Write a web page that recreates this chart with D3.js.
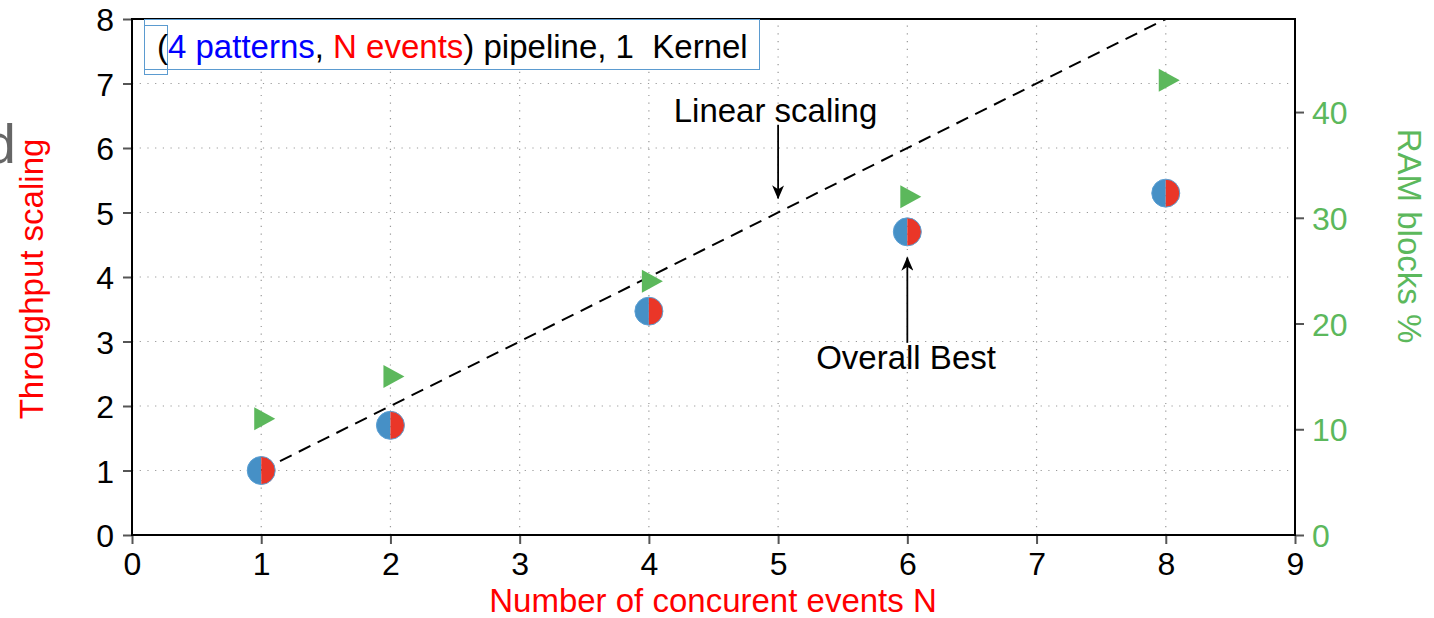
<!DOCTYPE html>
<html>
<head>
<meta charset="utf-8">
<script src="https://cdn.jsdelivr.net/npm/d3@7"></script>
<style>
  body { margin: 0; background: #fff; }
  svg { font-family: "Liberation Sans", Arial, Helvetica, sans-serif; }
</style>
</head>
<body>
<div id="chart"></div>
<script>
const EVENTS = [1, 2, 4, 6, 8]
const THROUGHPUT = [1.0, 1.7, 3.47, 4.7, 5.3]
const RAM_BLOCKS = [11, 15, 24, 32, 43]
const LINEAR = [[1, 1], [8, 8]]
const X_TICKS = [0, 1, 2, 3, 4, 5, 6, 7, 8, 9]
const Y_TICKS = [0, 1, 2, 3, 4, 5, 6, 7, 8]
const Y2_TICKS = [0, 10, 20, 30, 40]

const BLUE = '#4690c6'
const RED = '#ea3628'
const GREEN = '#5cb85c'

const width = 1434, height = 618
const margin = {top: 19, right: 139, bottom: 83, left: 132}

const svg = d3.select('#chart').append('svg')
  .attr('width', width)
  .attr('height', height)

const x = d3.scaleLinear().domain([0, 9]).range([margin.left, width - margin.right])
const y = d3.scaleLinear().domain([0, 8]).range([height - margin.bottom, margin.top])
const y2 = d3.scaleLinear().domain([0, 48.8]).range([height - margin.bottom, margin.top])

// stray glyph from neighbouring content on the page
svg.append('text')
  .attr('x', 16).attr('y', 163)
  .attr('text-anchor', 'end')
  .style('font-size', '56px')
  .attr('fill', '#666')
  .text('d')

// dotted grid
const grid = svg.append('g')
  .attr('stroke', '#999')
  .attr('stroke-width', 1.2)
  .attr('stroke-dasharray', '1.2,6.5')
grid.selectAll('.gx').data(X_TICKS.slice(1, -1)).join('line')
  .attr('x1', d => x(d)).attr('x2', d => x(d))
  .attr('y1', y(0)).attr('y2', y(8))
grid.selectAll('.gy').data(Y_TICKS.slice(1, -1)).join('line')
  .attr('y1', d => y(d)).attr('y2', d => y(d))
  .attr('x1', x(0)).attr('x2', x(9))

// axes
const styleAxis = (g, color) => {
  g.select('.domain').remove()
  g.selectAll('.tick line').attr('stroke', '#555').attr('stroke-width', 2)
  g.selectAll('.tick text')
    .style('font-size', '32px')
    .style('font-family', '"Liberation Sans", Arial, sans-serif')
    .attr('fill', color)
}

svg.append('g')
  .attr('transform', `translate(0,${y(0)})`)
  .call(d3.axisBottom(x).tickValues(X_TICKS).tickSize(9).tickPadding(8))
  .call(g => styleAxis(g, '#000'))

svg.append('g')
  .attr('transform', `translate(${x(0)},0)`)
  .call(d3.axisLeft(y).tickValues(Y_TICKS).tickSize(9).tickPadding(9))
  .call(g => styleAxis(g, '#000'))
  .call(g => g.selectAll('.tick text').attr('dy', '0.36em'))

svg.append('g')
  .attr('transform', `translate(${x(9)},0)`)
  .call(d3.axisRight(y2).tickValues(Y2_TICKS).tickSize(9).tickPadding(8))
  .call(g => styleAxis(g, GREEN))
  .call(g => g.selectAll('.tick text').attr('dy', '0.36em'))

// frame
svg.append('rect')
  .attr('x', x(0)).attr('y', y(8))
  .attr('width', x(9) - x(0)).attr('height', y(0) - y(8))
  .attr('fill', 'none').attr('stroke', '#000').attr('stroke-width', 2)

// axis labels
svg.append('text')
  .attr('x', 713).attr('y', 612)
  .attr('text-anchor', 'middle')
  .style('font-size', '33px').attr('fill', '#ff0000')
  .text('Number of concurent events N')

svg.append('text')
  .attr('transform', `translate(43,${(y(0) + y(8)) / 2 + 2}) rotate(-90)`)
  .attr('text-anchor', 'middle')
  .style('font-size', '33px').attr('fill', '#ff0000')
  .text('Throughput scaling')

svg.append('text')
  .attr('transform', `translate(1398,236) rotate(90)`)
  .attr('text-anchor', 'middle')
  .style('font-size', '33px').attr('fill', GREEN)
  .text('RAM blocks %')

// linear scaling reference
svg.append('path')
  .datum(LINEAR)
  .attr('d', d3.line().x(d => x(d[0])).y(d => y(d[1])))
  .attr('fill', 'none').attr('stroke', '#000')
  .attr('stroke-width', 2).attr('stroke-dasharray', '13,8')

// RAM blocks triangles (centroid on the value)
svg.selectAll('.ram').data(EVENTS).join('path')
  .attr('transform', (d, i) => `translate(${x(d)},${y2(RAM_BLOCKS[i])})`)
  .attr('d', 'M-7,-11.5L14,0L-7,11.5Z')
  .attr('fill', GREEN)

// throughput half-discs
const r = 14
const pts = svg.selectAll('.pt').data(EVENTS).join('g')
  .attr('transform', (d, i) => `translate(${x(d)},${y(THROUGHPUT[i])})`)
pts.append('path')
  .attr('d', `M0,${-r}A${r},${r} 0 0 0 0,${r}Z`)
  .attr('fill', BLUE)
pts.append('path')
  .attr('d', `M0,${-r}A${r},${r} 0 0 1 0,${r}Z`)
  .attr('fill', RED)
pts.append('circle')
  .attr('r', r)
  .attr('fill', 'none').attr('stroke', '#5a9fd4').attr('stroke-width', 1)

// annotations
svg.append('defs').append('marker')
  .attr('id', 'head')
  .attr('viewBox', '0 0 12 14')
  .attr('refX', 13).attr('refY', 6)
  .attr('markerWidth', 14).attr('markerHeight', 12)
  .attr('markerUnits', 'userSpaceOnUse')
  .attr('orient', 'auto')
  .attr('viewBox', '0 0 14 12')
  .append('path')
  .attr('d', 'M0,0L14,6L0,12L4,6Z')
  .attr('fill', '#000')

const ANNOTATIONS = [
  {label: 'Linear scaling', tip: [5, 5.22], tail: [5, 6.36], text: [4.98, 6.4]},
  {label: 'Overall Best', tip: [6, 4.3], tail: [6, 2.98], text: [5.99, 2.57]}
]
ANNOTATIONS.forEach(a => {
  svg.append('line')
    .attr('x1', x(a.tail[0])).attr('y1', y(a.tail[1]))
    .attr('x2', x(a.tip[0])).attr('y2', y(a.tip[1]))
    .attr('stroke', '#000').attr('stroke-width', 1.8)
    .attr('marker-end', 'url(#head)')
  svg.append('text')
    .attr('x', x(a.text[0])).attr('y', y(a.text[1]))
    .attr('text-anchor', 'middle')
    .style('font-size', '33px').attr('fill', '#000')
    .text(a.label)
})

// legend box
const legend = svg.append('g')
legend.append('rect')
  .attr('x', 144.5).attr('y', 19.5).attr('width', 615).attr('height', 50)
  .attr('fill', '#fff').attr('stroke', '#5b9bd0').attr('stroke-width', 1)
legend.append('rect')
  .attr('x', 144.5).attr('y', 25.5).attr('width', 23).attr('height', 49)
  .attr('fill', 'none').attr('stroke', '#5b9bd0').attr('stroke-width', 1)
const title = legend.append('text')
  .attr('x', 157).attr('y', 58)
  .style('font-size', '33px').attr('fill', '#000')
title.append('tspan').text('(')
title.append('tspan').attr('fill', '#0000ff').text('4 patterns')
title.append('tspan').text(', ')
title.append('tspan').attr('fill', '#ff0000').text('N events')
title.append('tspan').text(') pipeline, 1\u00a0 Kernel')
</script>
</body>
</html>
